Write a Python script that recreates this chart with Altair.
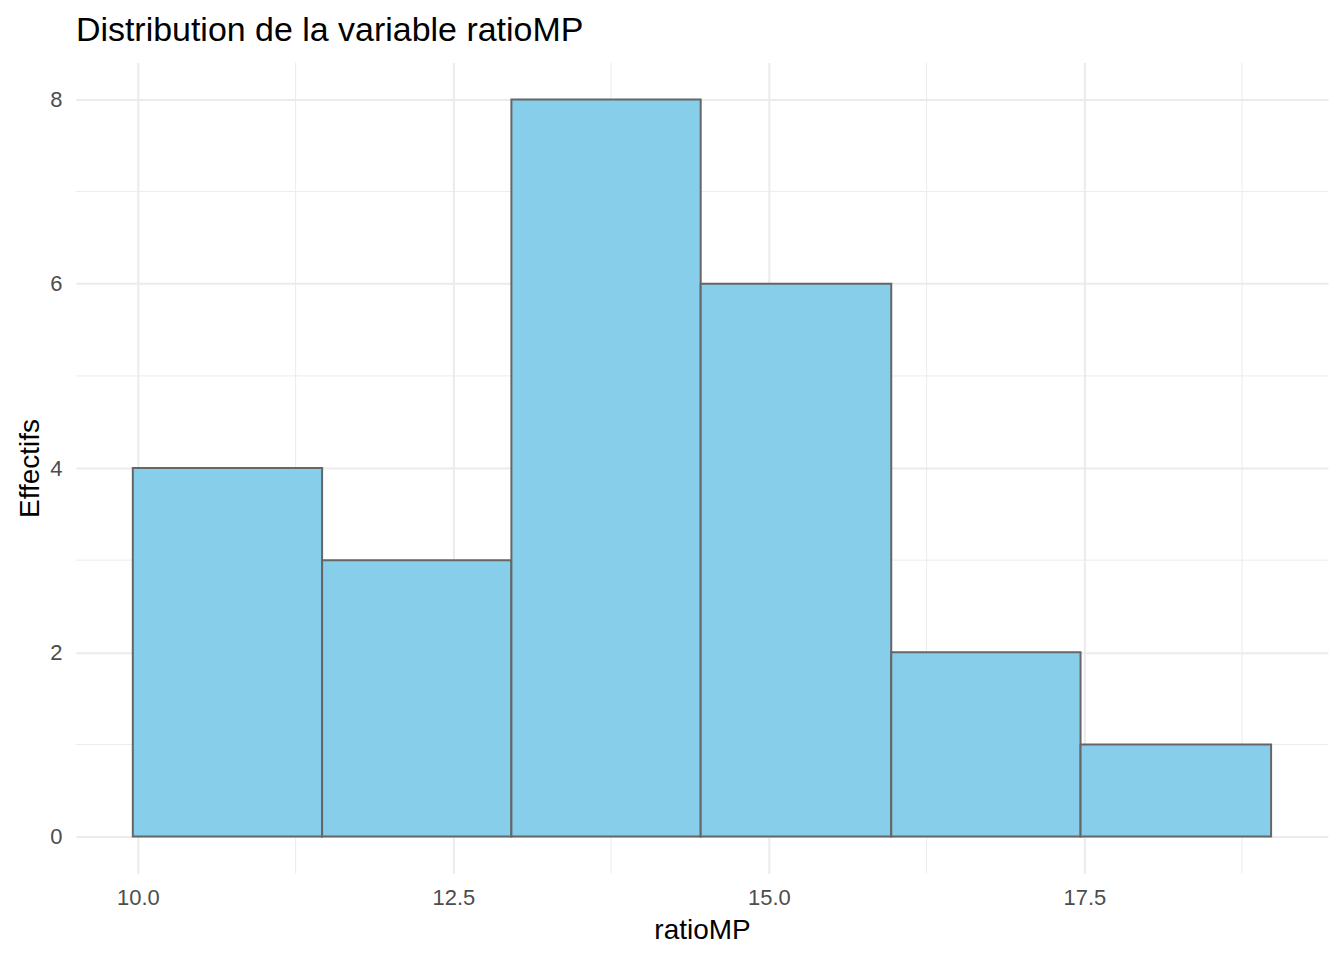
import altair as alt
import pandas as pd

# Histogram bins
bin_start = [9.96, 11.46, 12.96, 14.46, 15.97, 17.47]
bin_end = [11.46, 12.96, 14.46, 15.97, 17.47, 18.98]
counts = [4, 3, 8, 6, 2, 1]

# Axis ticks and minor grid positions
x_ticks = [10.0, 12.5, 15.0, 17.5]
x_minor = [11.25, 13.75, 16.25, 18.75]
y_ticks = [0, 2, 4, 6, 8]
y_minor = [1, 3, 5, 7]

FONT = "Liberation Sans"
GRID = "#EBEBEB"

bars_df = pd.DataFrame({"start": bin_start, "end": bin_end, "count": counts})
xminor_df = pd.DataFrame({"v": x_minor})
yminor_df = pd.DataFrame({"v": y_minor})

xscale = alt.Scale(domain=[9.509, 19.431], nice=False, zero=False)
yscale = alt.Scale(domain=[-0.4, 8.4], nice=False, zero=False)

W, H = 1254, 812

xaxis = alt.Axis(
    values=x_ticks, format=".1f", grid=True, gridColor=GRID, gridWidth=2,
    ticks=False, tickSize=0, domain=False, labelFont=FONT, labelFontSize=22,
    labelColor="#4D4D4D", labelPadding=14, labelOverlap=False,
    title="ratioMP", titleFont=FONT, titleFontSize=28, titleFontWeight="normal",
    titleColor="black", titleX=W / 2, titleY=65, titleBaseline="alphabetic",
    titleAlign="center",
)
yaxis = alt.Axis(
    values=y_ticks, format="d", grid=True, gridColor=GRID, gridWidth=2,
    ticks=False, tickSize=0, domain=False, labelFont=FONT, labelFontSize=22,
    labelColor="#4D4D4D", labelPadding=14, labelOverlap=False,
    title="Effectifs", titleFont=FONT, titleFontSize=28, titleFontWeight="normal",
    titleColor="black", titleX=-37.5, titleY=H / 2, titleBaseline="alphabetic",
    titleAlign="center", titleAngle=270,
)

vminor = alt.Chart(xminor_df).mark_rule(color=GRID, strokeWidth=1).encode(
    x=alt.X("v:Q", scale=xscale, axis=xaxis)
)
hminor = alt.Chart(yminor_df).mark_rule(color=GRID, strokeWidth=1).encode(
    y=alt.Y("v:Q", scale=yscale, axis=yaxis)
)

bars = alt.Chart(bars_df).mark_rect(
    fill="#87CEEB", stroke="#666666", strokeWidth=2
).encode(
    x=alt.X("start:Q", scale=xscale, axis=xaxis),
    x2="end:Q",
    y=alt.Y("count:Q", scale=yscale, axis=yaxis),
    y2=alt.datum(0),
)

chart = alt.layer(vminor, hminor, bars).properties(
    width=W,
    height=H,
    background="white",
    title=alt.TitleParams(
        "Distribution de la variable ratioMP", anchor="start", frame="group",
        font=FONT, fontSize=34, fontWeight="normal", color="black",
        offset=14,
    ),
    autosize=alt.AutoSizeParams(type="none"),
    padding={"left": 68, "top": 54, "right": 8, "bottom": 70},
).configure_view(stroke=None)

chart.save("out.html", embed_options={"renderer": "svg", "actions": False})
